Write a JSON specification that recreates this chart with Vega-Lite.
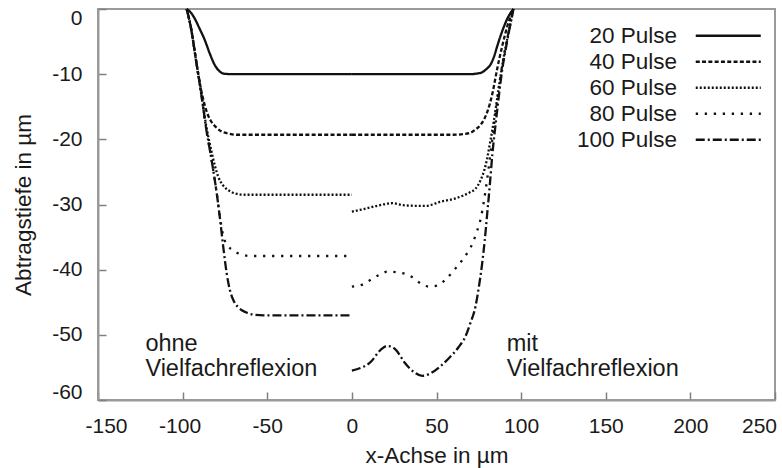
{
  "$schema": "https://vega.github.io/schema/vega-lite/v6.json",
  "width": 677,
  "height": 391,
  "autosize": {"type": "none"},
  "padding": {"left": 98, "top": 9, "right": 7, "bottom": 68},
  "background": "white",
  "config": {
    "font": "Liberation Sans",
    "view": {"stroke": "#9a9a9a", "strokeWidth": 2},
    "axis": {
      "domainColor": "#9a9a9a",
      "domainWidth": 2,
      "tickColor": "#808080",
      "tickWidth": 1.5,
      "tickSize": -8,
      "grid": false,
      "labelFont": "Liberation Sans",
      "labelFontSize": 21,
      "labelColor": "#1a1a1a",
      "labelExpr": "'' + datum.value",
      "titleFont": "Liberation Sans",
      "titleFontSize": 22.5,
      "titleFontWeight": "normal",
      "titleColor": "#1a1a1a"
    },
    "legend": {
      "orient": "none",
      "legendX": 566.5,
      "legendY": 15.5,
      "padding": 0,
      "symbolType": "M 20 0 L 85 0",
      "symbolSize": 4,
      "symbolStrokeWidth": 2.3,
      "symbolStrokeColor": "#111",
      "rowPadding": 3,
      "labelAlign": "right",
      "labelFont": "Liberation Sans",
      "labelFontSize": 22.5,
      "labelColor": "#1a1a1a",
      "symbolOffset": 0,
      "labelOffset": -10
    }
  },
  "datasets": {
    "profiles": [
      {"s": "20 Pulse", "side": "L", "x": -97.6, "y": 0},
      {"s": "20 Pulse", "side": "L", "x": -95, "y": -0.6},
      {"s": "20 Pulse", "side": "L", "x": -93, "y": -1.4},
      {"s": "20 Pulse", "side": "L", "x": -90, "y": -3},
      {"s": "20 Pulse", "side": "L", "x": -87, "y": -4.7},
      {"s": "20 Pulse", "side": "L", "x": -84, "y": -6.8},
      {"s": "20 Pulse", "side": "L", "x": -81, "y": -8.6},
      {"s": "20 Pulse", "side": "L", "x": -78, "y": -9.6},
      {"s": "20 Pulse", "side": "L", "x": -75, "y": -9.95},
      {"s": "20 Pulse", "side": "L", "x": -70, "y": -10},
      {"s": "20 Pulse", "side": "L", "x": 0, "y": -10},
      {"s": "20 Pulse", "side": "R", "x": 0, "y": -10},
      {"s": "20 Pulse", "side": "R", "x": 70, "y": -10},
      {"s": "20 Pulse", "side": "R", "x": 74, "y": -9.9},
      {"s": "20 Pulse", "side": "R", "x": 77, "y": -9.7},
      {"s": "20 Pulse", "side": "R", "x": 80, "y": -9.1},
      {"s": "20 Pulse", "side": "R", "x": 82, "y": -8.5},
      {"s": "20 Pulse", "side": "R", "x": 84, "y": -7.3},
      {"s": "20 Pulse", "side": "R", "x": 86, "y": -5.6},
      {"s": "20 Pulse", "side": "R", "x": 88, "y": -4},
      {"s": "20 Pulse", "side": "R", "x": 90, "y": -2.6},
      {"s": "20 Pulse", "side": "R", "x": 92, "y": -1.4},
      {"s": "20 Pulse", "side": "R", "x": 94, "y": -0.5},
      {"s": "20 Pulse", "side": "R", "x": 95.5, "y": 0},

      {"s": "40 Pulse", "side": "L", "x": -97.6, "y": 0},
      {"s": "40 Pulse", "side": "L", "x": -95, "y": -3},
      {"s": "40 Pulse", "side": "L", "x": -92, "y": -8},
      {"s": "40 Pulse", "side": "L", "x": -89, "y": -12.5},
      {"s": "40 Pulse", "side": "L", "x": -87, "y": -14.7},
      {"s": "40 Pulse", "side": "L", "x": -85, "y": -16.3},
      {"s": "40 Pulse", "side": "L", "x": -83, "y": -17.3},
      {"s": "40 Pulse", "side": "L", "x": -80, "y": -18.2},
      {"s": "40 Pulse", "side": "L", "x": -77, "y": -18.8},
      {"s": "40 Pulse", "side": "L", "x": -73, "y": -19.1},
      {"s": "40 Pulse", "side": "L", "x": -68, "y": -19.3},
      {"s": "40 Pulse", "side": "L", "x": 0, "y": -19.3},
      {"s": "40 Pulse", "side": "R", "x": 0, "y": -19.3},
      {"s": "40 Pulse", "side": "R", "x": 60, "y": -19.3},
      {"s": "40 Pulse", "side": "R", "x": 66, "y": -19.2},
      {"s": "40 Pulse", "side": "R", "x": 70, "y": -19},
      {"s": "40 Pulse", "side": "R", "x": 73, "y": -18.5},
      {"s": "40 Pulse", "side": "R", "x": 76, "y": -17.8},
      {"s": "40 Pulse", "side": "R", "x": 78, "y": -17},
      {"s": "40 Pulse", "side": "R", "x": 80, "y": -15.8},
      {"s": "40 Pulse", "side": "R", "x": 83, "y": -13},
      {"s": "40 Pulse", "side": "R", "x": 86, "y": -9},
      {"s": "40 Pulse", "side": "R", "x": 89, "y": -5.5},
      {"s": "40 Pulse", "side": "R", "x": 92, "y": -2.5},
      {"s": "40 Pulse", "side": "R", "x": 95.5, "y": 0},

      {"s": "60 Pulse", "side": "L", "x": -97.6, "y": 0},
      {"s": "60 Pulse", "side": "L", "x": -95, "y": -3},
      {"s": "60 Pulse", "side": "L", "x": -92, "y": -8},
      {"s": "60 Pulse", "side": "L", "x": -89, "y": -13},
      {"s": "60 Pulse", "side": "L", "x": -86, "y": -18},
      {"s": "60 Pulse", "side": "L", "x": -83, "y": -21.8},
      {"s": "60 Pulse", "side": "L", "x": -81, "y": -24},
      {"s": "60 Pulse", "side": "L", "x": -79, "y": -25.7},
      {"s": "60 Pulse", "side": "L", "x": -76, "y": -27.1},
      {"s": "60 Pulse", "side": "L", "x": -73, "y": -27.8},
      {"s": "60 Pulse", "side": "L", "x": -69, "y": -28.3},
      {"s": "60 Pulse", "side": "L", "x": -63, "y": -28.5},
      {"s": "60 Pulse", "side": "L", "x": 0, "y": -28.5},
      {"s": "60 Pulse", "side": "R", "x": 0, "y": -31.1},
      {"s": "60 Pulse", "side": "R", "x": 7, "y": -30.7},
      {"s": "60 Pulse", "side": "R", "x": 15, "y": -30.2},
      {"s": "60 Pulse", "side": "R", "x": 24, "y": -29.8},
      {"s": "60 Pulse", "side": "R", "x": 30, "y": -30.1},
      {"s": "60 Pulse", "side": "R", "x": 38, "y": -30.2},
      {"s": "60 Pulse", "side": "R", "x": 44, "y": -30.2},
      {"s": "60 Pulse", "side": "R", "x": 52, "y": -29.6},
      {"s": "60 Pulse", "side": "R", "x": 62, "y": -29},
      {"s": "60 Pulse", "side": "R", "x": 66, "y": -28.6},
      {"s": "60 Pulse", "side": "R", "x": 70, "y": -28.1},
      {"s": "60 Pulse", "side": "R", "x": 73, "y": -27.6},
      {"s": "60 Pulse", "side": "R", "x": 76, "y": -26.3},
      {"s": "60 Pulse", "side": "R", "x": 79, "y": -24},
      {"s": "60 Pulse", "side": "R", "x": 82, "y": -20},
      {"s": "60 Pulse", "side": "R", "x": 84, "y": -17},
      {"s": "60 Pulse", "side": "R", "x": 86, "y": -13.5},
      {"s": "60 Pulse", "side": "R", "x": 88, "y": -10},
      {"s": "60 Pulse", "side": "R", "x": 90, "y": -7},
      {"s": "60 Pulse", "side": "R", "x": 92, "y": -4.3},
      {"s": "60 Pulse", "side": "R", "x": 94, "y": -1.8},
      {"s": "60 Pulse", "side": "R", "x": 95.5, "y": 0},

      {"s": "80 Pulse", "side": "L", "x": -97.6, "y": 0},
      {"s": "80 Pulse", "side": "L", "x": -95, "y": -3},
      {"s": "80 Pulse", "side": "L", "x": -92, "y": -8},
      {"s": "80 Pulse", "side": "L", "x": -89, "y": -13},
      {"s": "80 Pulse", "side": "L", "x": -86, "y": -18.5},
      {"s": "80 Pulse", "side": "L", "x": -83, "y": -23},
      {"s": "80 Pulse", "side": "L", "x": -80, "y": -28},
      {"s": "80 Pulse", "side": "L", "x": -78, "y": -31.8},
      {"s": "80 Pulse", "side": "L", "x": -76, "y": -34.8},
      {"s": "80 Pulse", "side": "L", "x": -73, "y": -36.4},
      {"s": "80 Pulse", "side": "L", "x": -70, "y": -37.1},
      {"s": "80 Pulse", "side": "L", "x": -66, "y": -37.6},
      {"s": "80 Pulse", "side": "L", "x": -60, "y": -37.9},
      {"s": "80 Pulse", "side": "L", "x": 0, "y": -37.9},
      {"s": "80 Pulse", "side": "R", "x": 0, "y": -42.6},
      {"s": "80 Pulse", "side": "R", "x": 7, "y": -42.2},
      {"s": "80 Pulse", "side": "R", "x": 12, "y": -41.4},
      {"s": "80 Pulse", "side": "R", "x": 17, "y": -40.7},
      {"s": "80 Pulse", "side": "R", "x": 21, "y": -40.3},
      {"s": "80 Pulse", "side": "R", "x": 26.5, "y": -40.4},
      {"s": "80 Pulse", "side": "R", "x": 32, "y": -40.7},
      {"s": "80 Pulse", "side": "R", "x": 36.6, "y": -41.3},
      {"s": "80 Pulse", "side": "R", "x": 41, "y": -42.2},
      {"s": "80 Pulse", "side": "R", "x": 46, "y": -42.6},
      {"s": "80 Pulse", "side": "R", "x": 51, "y": -42.4},
      {"s": "80 Pulse", "side": "R", "x": 55, "y": -41.6},
      {"s": "80 Pulse", "side": "R", "x": 59, "y": -40.5},
      {"s": "80 Pulse", "side": "R", "x": 62.5, "y": -39.4},
      {"s": "80 Pulse", "side": "R", "x": 65.6, "y": -38.4},
      {"s": "80 Pulse", "side": "R", "x": 69, "y": -37.1},
      {"s": "80 Pulse", "side": "R", "x": 71.6, "y": -35.8},
      {"s": "80 Pulse", "side": "R", "x": 73.5, "y": -34.4},
      {"s": "80 Pulse", "side": "R", "x": 76, "y": -32.3},
      {"s": "80 Pulse", "side": "R", "x": 78, "y": -29.5},
      {"s": "80 Pulse", "side": "R", "x": 80, "y": -26},
      {"s": "80 Pulse", "side": "R", "x": 82, "y": -22},
      {"s": "80 Pulse", "side": "R", "x": 84, "y": -17.8},
      {"s": "80 Pulse", "side": "R", "x": 86, "y": -13.8},
      {"s": "80 Pulse", "side": "R", "x": 88, "y": -10},
      {"s": "80 Pulse", "side": "R", "x": 90, "y": -7},
      {"s": "80 Pulse", "side": "R", "x": 92, "y": -4.3},
      {"s": "80 Pulse", "side": "R", "x": 94, "y": -1.8},
      {"s": "80 Pulse", "side": "R", "x": 95.5, "y": 0},

      {"s": "100 Pulse", "side": "L", "x": -97.6, "y": 0},
      {"s": "100 Pulse", "side": "L", "x": -95, "y": -3},
      {"s": "100 Pulse", "side": "L", "x": -92, "y": -8},
      {"s": "100 Pulse", "side": "L", "x": -89, "y": -13},
      {"s": "100 Pulse", "side": "L", "x": -86, "y": -18.5},
      {"s": "100 Pulse", "side": "L", "x": -83, "y": -23},
      {"s": "100 Pulse", "side": "L", "x": -80, "y": -28},
      {"s": "100 Pulse", "side": "L", "x": -78, "y": -32},
      {"s": "100 Pulse", "side": "L", "x": -76, "y": -36.5},
      {"s": "100 Pulse", "side": "L", "x": -74, "y": -40.5},
      {"s": "100 Pulse", "side": "L", "x": -72, "y": -43.2},
      {"s": "100 Pulse", "side": "L", "x": -70, "y": -44.7},
      {"s": "100 Pulse", "side": "L", "x": -67, "y": -45.8},
      {"s": "100 Pulse", "side": "L", "x": -63, "y": -46.5},
      {"s": "100 Pulse", "side": "L", "x": -58, "y": -46.9},
      {"s": "100 Pulse", "side": "L", "x": -52, "y": -47},
      {"s": "100 Pulse", "side": "L", "x": 0, "y": -47},
      {"s": "100 Pulse", "side": "R", "x": 0, "y": -55.5},
      {"s": "100 Pulse", "side": "R", "x": 5, "y": -55.1},
      {"s": "100 Pulse", "side": "R", "x": 11, "y": -54.2},
      {"s": "100 Pulse", "side": "R", "x": 17, "y": -52.3},
      {"s": "100 Pulse", "side": "R", "x": 21, "y": -51.7},
      {"s": "100 Pulse", "side": "R", "x": 26, "y": -52.3},
      {"s": "100 Pulse", "side": "R", "x": 31, "y": -54.2},
      {"s": "100 Pulse", "side": "R", "x": 36.6, "y": -55.7},
      {"s": "100 Pulse", "side": "R", "x": 41.6, "y": -56.3},
      {"s": "100 Pulse", "side": "R", "x": 46.5, "y": -55.9},
      {"s": "100 Pulse", "side": "R", "x": 52, "y": -54.9},
      {"s": "100 Pulse", "side": "R", "x": 58, "y": -53.4},
      {"s": "100 Pulse", "side": "R", "x": 63, "y": -51.9},
      {"s": "100 Pulse", "side": "R", "x": 67, "y": -50.3},
      {"s": "100 Pulse", "side": "R", "x": 70, "y": -48.2},
      {"s": "100 Pulse", "side": "R", "x": 73, "y": -45.7},
      {"s": "100 Pulse", "side": "R", "x": 75, "y": -42.7},
      {"s": "100 Pulse", "side": "R", "x": 77, "y": -39},
      {"s": "100 Pulse", "side": "R", "x": 78.5, "y": -35.5},
      {"s": "100 Pulse", "side": "R", "x": 80, "y": -31.3},
      {"s": "100 Pulse", "side": "R", "x": 81.5, "y": -27},
      {"s": "100 Pulse", "side": "R", "x": 83, "y": -22.3},
      {"s": "100 Pulse", "side": "R", "x": 85, "y": -17.5},
      {"s": "100 Pulse", "side": "R", "x": 87, "y": -13},
      {"s": "100 Pulse", "side": "R", "x": 89, "y": -9},
      {"s": "100 Pulse", "side": "R", "x": 91, "y": -6},
      {"s": "100 Pulse", "side": "R", "x": 93, "y": -3.2},
      {"s": "100 Pulse", "side": "R", "x": 95.5, "y": 0}
    ],
    "notes": [
      {"label": "ohne\nVielfachreflexion", "x": -122, "y": -52.5},
      {"label": "mit\nVielfachreflexion", "x": 91.5, "y": -52.5}
    ]
  },
  "layer": [
    {
      "mark": {"type": "rule", "color": "#7a7a7a", "strokeWidth": 1.2, "strokeDash": [9, 3, 2, 3]},
      "encoding": {"x": {"datum": 0, "type": "quantitative"}}
    },
    {
      "data": {"name": "profiles"},
      "mark": {"type": "line", "interpolate": "monotone", "strokeWidth": 2.3, "color": "#111"},
      "encoding": {
        "x": {
          "field": "x", "type": "quantitative",
          "scale": {"domain": [-150, 250], "nice": false},
          "axis": {
            "values": [-150, -100, -50, 0, 50, 100, 150, 200, 250],
            "title": "x-Achse in µm",
            "labelFlush": false,
            "labelOffset": {"condition": [{"test": "datum.value == -150", "value": 8}, {"test": "datum.value == 250", "value": -16}, {"test": "datum.value == -100", "value": -3}], "value": 0},
            "labelPadding": 23,
            "titlePadding": 8
          }
        },
        "y": {
          "field": "y", "type": "quantitative",
          "scale": {"domain": [-60, 0], "nice": false},
          "axis": {"values": [0, -10, -20, -30, -40, -50, -60], "title": "Abtragstiefe in µm", "labelPadding": 24, "titlePadding": 16, "labelFlush": true, "labelFlushOffset": 2}
        },
        "strokeDash": {
          "field": "s", "type": "nominal",
          "scale": {
            "domain": ["20 Pulse", "40 Pulse", "60 Pulse", "80 Pulse", "100 Pulse"],
            "range": [[1, 0], [4, 2.3], [2, 2], [2.3, 6.7], [9, 3, 2, 3]]
          },
          "legend": {"title": null}
        },
        "detail": {"field": "side", "type": "nominal"}
      }
    },
    {
      "data": {"name": "notes"},
      "mark": {"type": "text", "align": "left", "baseline": "alphabetic", "lineBreak": "\n", "lineHeight": 25, "font": "Liberation Sans", "fontSize": 23.5, "color": "#1a1a1a"},
      "encoding": {
        "x": {"field": "x", "type": "quantitative"},
        "y": {"field": "y", "type": "quantitative"},
        "text": {"field": "label"}
      }
    }
  ]
}
